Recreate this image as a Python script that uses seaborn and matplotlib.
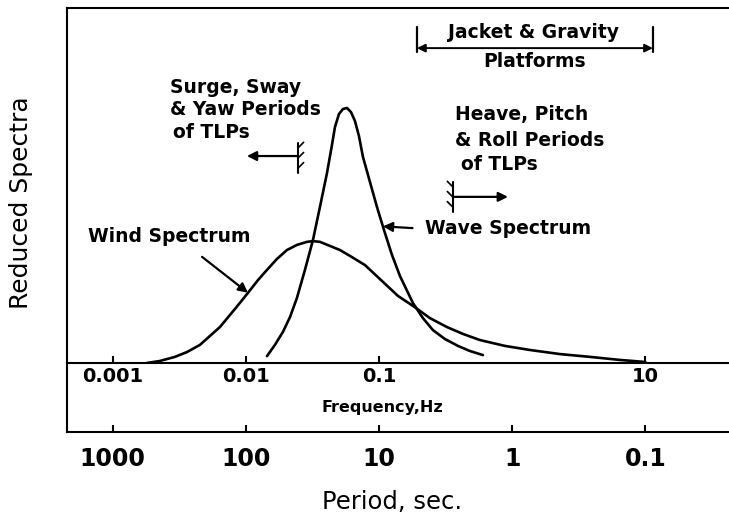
import numpy as np
import matplotlib
matplotlib.use("Agg")
import matplotlib.pyplot as plt
import seaborn as sns

# spectra (frequency in Hz, reduced spectral ordinate, wave peak = 1)
WIND_F = [0.00181, 0.00227, 0.00294, 0.00362, 0.00453, 0.00640, 0.00830, 0.01039, 0.01235,
          0.01443, 0.01715, 0.02038, 0.02422, 0.02880, 0.03195, 0.03606, 0.04287, 0.05095,
          0.06057, 0.07852, 0.1072, 0.1389, 0.1800, 0.2415, 0.3238, 0.4272, 0.5731, 0.8829,
          1.360, 2.285, 3.837, 6.447, 10.0]
WIND_S = [0.000, 0.008, 0.024, 0.043, 0.071, 0.141, 0.212, 0.275, 0.325,
          0.365, 0.408, 0.443, 0.463, 0.475, 0.478, 0.475, 0.459, 0.443,
          0.420, 0.384, 0.318, 0.263, 0.224, 0.176, 0.141, 0.114, 0.090, 0.067,
          0.051, 0.035, 0.024, 0.012, 0.004]
WAVE_F = [0.01443, 0.01656, 0.01902, 0.02148, 0.02422, 0.02782, 0.03195, 0.03606, 0.04073,
          0.04439, 0.04673, 0.05007, 0.05366, 0.05751, 0.06163, 0.06604, 0.07076, 0.07586,
          0.08558, 0.09661, 0.1090, 0.1252, 0.1438, 0.1800, 0.2139, 0.2543, 0.3129, 0.3918,
          0.4821, 0.6036]
WAVE_S = [0.027, 0.071, 0.122, 0.180, 0.255, 0.365, 0.482, 0.612, 0.745,
          0.855, 0.925, 0.976, 0.996, 1.000, 0.984, 0.949, 0.890, 0.808,
          0.710, 0.612, 0.522, 0.424, 0.341, 0.235, 0.176, 0.129, 0.094, 0.067,
          0.047, 0.031]

FREQ_TICKS = [0.001, 0.01, 0.1, 10]
FREQ_LABELS = ["0.001", "0.01", "0.1", "10"]
PERIOD_TICKS = [1000, 100, 10, 1, 0.1]
PERIOD_LABELS = ["1000", "100", "10", "1", "0.1"]

JACKET_F = [0.193, 11.4]      # bracket ends, Hz
SURGE_F = [0.0247, 0.0102]    # hatch, arrow tip
HEAVE_F = [0.359, 0.93]       # hatch, arrow tip
WIND_ARROW_F = 0.0104
WAVE_ARROW_F = 0.107
F_LIM = (10 ** -3.342, 10 ** 1.628)
S_TOP = 1.392

sns.set_style("white")
plt.rcParams["font.family"] = ["DejaVu Sans"]
plt.rcParams.update({"axes.edgecolor": "black", "text.color": "black",
                     "axes.labelcolor": "black", "xtick.color": "black"})

W, H = 729, 518
def box(l, t, r, b):
    return [l / W, 1 - b / H, (r - l) / W, (b - t) / H]

fig = plt.figure(figsize=(W / 100, H / 100), dpi=100)
axb = fig.add_axes(box(67, 363, 729, 432))
ax = fig.add_axes(box(67, 8, 729, 363))
axb.patch.set_alpha(0)
ax.patch.set_alpha(0)

sns.lineplot(x=WIND_F, y=WIND_S, ax=ax, color="black", lw=1.9)
sns.lineplot(x=WAVE_F, y=WAVE_S, ax=ax, color="black", lw=1.9)

for a in (ax, axb):
    a.set_xscale("log")
    a.set_xlim(*F_LIM)
    a.set_yticks([])
    a.spines["right"].set_visible(False)
    for s in a.spines.values():
        s.set_linewidth(1.5)
    a.minorticks_off()
ax.set_ylim(0, S_TOP)
axb.spines["top"].set_visible(False)

ax.set_xticks(FREQ_TICKS, labels=FREQ_LABELS, fontsize=14, fontweight="bold")
ax.tick_params(axis="x", which="major", bottom=True, direction="in", length=5, width=1.5, pad=3)
ax.tick_params(axis="x", which="minor", bottom=False)
axb.set_xticks([1 / p for p in PERIOD_TICKS], labels=PERIOD_LABELS, fontsize=17, fontweight="bold")
axb.tick_params(axis="x", which="major", bottom=True, direction="in", length=5, width=1.5, pad=11)
axb.tick_params(axis="x", which="minor", bottom=False)

ax.set_xlabel("Frequency,Hz", fontsize=11.5, fontweight="bold")
ax.xaxis.set_label_coords(0.476, -0.104)
axb.set_xlabel("Period, sec.", fontsize=17.5)
axb.xaxis.set_label_coords(0.491, -0.84)
ax.set_ylabel("Reduced Spectra", fontsize=18)
ax.yaxis.set_label_coords(-0.051, 0.451)

tr = ax.get_xaxis_transform()
txt = dict(transform=ax.transAxes, fontsize=13.5, fontweight="bold", va="center")
arrow = dict(arrowstyle="-|>", color="black", lw=1.6, shrinkA=0, shrinkB=0, mutation_scale=14)

# Jacket & Gravity bracket
ax.text(0.705, 0.932, "Jacket & Gravity", ha="center", **txt)
ax.text(0.707, 0.848, "Platforms", ha="center", **txt)
ax.annotate("", xy=(JACKET_F[0], 0.887), xytext=(JACKET_F[1], 0.887), xycoords=tr,
            textcoords=tr, arrowprops=dict(arrowstyle="<|-|>", color="black", lw=1.4,
                                           shrinkA=0, shrinkB=0, mutation_scale=12))
for f in JACKET_F:
    ax.plot([f, f], [0.876, 0.946], transform=tr, color="black", lw=1.6)

# hatched wall + arrow
def wall(f, y0, y1, side):
    ax.plot([f, f], [y0, y1], transform=tr, color="black", lw=1.5)
    for y in np.linspace(y0 + 0.014, y1 - 0.014, 3):
        ax.annotate("", xy=(f, y), xycoords=tr, xytext=(side * 4, 4), textcoords="offset points",
                    arrowprops=dict(arrowstyle="-", lw=1.2, color="black", shrinkA=0, shrinkB=0))

ax.text(0.156, 0.777, "Surge, Sway", ha="left", **txt)
ax.text(0.156, 0.713, "& Yaw Periods", ha="left", **txt)
ax.text(0.160, 0.648, "of TLPs", ha="left", **txt)
wall(SURGE_F[0], 0.535, 0.620, 1)
ax.annotate("", xy=(SURGE_F[1], 0.583), xytext=(SURGE_F[0], 0.583), xycoords=tr,
            textcoords=tr, arrowprops=arrow)

ax.text(0.586, 0.699, "Heave, Pitch", ha="left", **txt)
ax.text(0.586, 0.628, "& Roll Periods", ha="left", **txt)
ax.text(0.595, 0.558, "of TLPs", ha="left", **txt)
wall(HEAVE_F[0], 0.425, 0.510, -1)
ax.annotate("", xy=(HEAVE_F[1], 0.468), xytext=(HEAVE_F[0], 0.468), xycoords=tr,
            textcoords=tr, arrowprops=arrow)

# curve labels
ax.text(0.032, 0.355, "Wind Spectrum", ha="left", **txt)
wy = np.interp(np.log10(WIND_ARROW_F), np.log10(WIND_F), WIND_S)
ax.annotate("", xy=(WIND_ARROW_F, wy), xytext=(0.204, 0.299), textcoords="axes fraction",
            arrowprops=arrow)
ax.text(0.541, 0.380, "Wave Spectrum", ha="left", **txt)
vy = np.interp(np.log10(WAVE_ARROW_F), np.log10(WAVE_F), WAVE_S)
ax.annotate("", xy=(WAVE_ARROW_F, vy), xytext=(0.522, 0.380), textcoords="axes fraction",
            arrowprops=arrow)

fig.savefig("out.png", dpi=100)
